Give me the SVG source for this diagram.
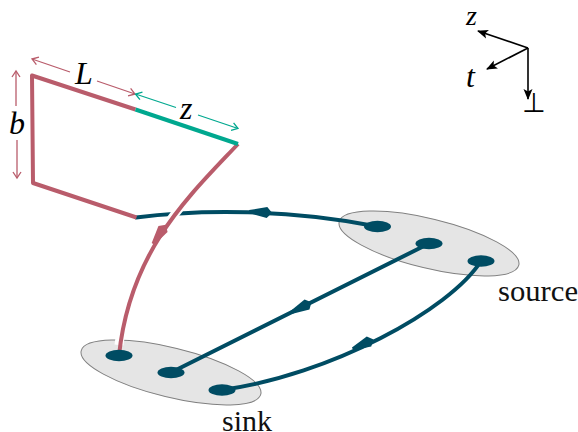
<svg xmlns="http://www.w3.org/2000/svg" width="578" height="432" viewBox="0 0 578 432">
<style>
.pink{fill:none;stroke:#b95c6b;stroke-width:4;stroke-linejoin:round}
.teal{fill:none;stroke:#00a88f;stroke-width:4}
.blue{fill:none;stroke:#004c63;stroke-width:4;stroke-linecap:round}
.halo{fill:none;stroke:#fff;stroke-width:9}
.dot{fill:#004c63}
.blob{fill:#e5e5e5;stroke:#808080;stroke-width:1}
.dimp{fill:none;stroke:#b95c6b;stroke-width:1.3}
.dimt{fill:none;stroke:#00a88f;stroke-width:1.3}
.ax{fill:none;stroke:#000;stroke-width:1.6}
.m{font-style:italic;font-size:32px;fill:#000}
.r{font-size:30px;fill:#111}
</style>
<defs>
<path id="kite" d="M-18,-1.500 L0,-5.500 L5,0 L0,5.500 L-18,1.500 Z"/>
<marker id="ap" markerWidth="10" markerHeight="10" refX="8" refY="5" orient="auto-start-reverse" markerUnits="userSpaceOnUse"><path d="M2,1 L8,5 L2,9" fill="none" stroke="#b95c6b" stroke-width="1.3"/></marker>
<marker id="at" markerWidth="10" markerHeight="10" refX="8" refY="5" orient="auto-start-reverse" markerUnits="userSpaceOnUse"><path d="M2,1 L8,5 L2,9" fill="none" stroke="#00a88f" stroke-width="1.3"/></marker>
<marker id="ak" markerWidth="12" markerHeight="10" refX="10" refY="5" orient="auto" markerUnits="userSpaceOnUse"><path d="M0,0.500 L11,5 L0,9.500 L2.500,5 Z" fill="#000"/></marker>
</defs>
<g id="source"><ellipse class="blob" cx="429" cy="243.500" rx="92.400" ry="24.800" transform="rotate(13.600 429 243.500)"/></g>
<g id="sink"><ellipse class="blob" cx="171" cy="372.500" rx="92.400" ry="24.800" transform="rotate(13.600 171 372.500)"/></g>
<g id="connectors">
<path class="blue" d="M136,217.500 C200,209 290,209 377.500,226.500"/>
<use href="#kite" class="dot" transform="translate(267,212.500) rotate(3)"/>
<path class="blue" d="M429,243.500 L171,372.500"/>
<use href="#kite" class="dot" transform="translate(307,304.500) rotate(-26.600)"/>
<path class="blue" d="M481,261 C450,310 330,375 222,390"/>
<use href="#kite" class="dot" transform="translate(369,341.500) rotate(-24)"/>
<path class="halo" d="M238,144 C190,195 130,250 119,345"/>
<path class="pink" d="M238,144 C190,195 130,250 119,355.500"/>
<use href="#kite" fill="#b95c6b" transform="translate(163,229) rotate(-56)"/>
<path class="pink" d="M135.500,109.500 L32,75.500 L33,183 L136.500,217.500"/>
<path class="teal" d="M135.500,109.500 L238,144"/>
<path class="dimp" marker-start="url(#ap)" d="M32,59 L70,72"/>
<path class="dimp" marker-end="url(#ap)" d="M97,81 L135,94"/>
<path class="dimt" marker-start="url(#at)" d="M135.500,94 L176,107.500"/>
<path class="dimt" marker-end="url(#at)" d="M198,115 L238,128.500"/>
<path class="dimp" marker-start="url(#ap)" d="M16,71 L16,106"/>
<path class="dimp" marker-end="url(#ap)" d="M17,140 L17,178"/>
<path class="ax" marker-end="url(#ak)" d="M528,48 L478,31"/>
<path class="ax" marker-end="url(#ak)" d="M528,48 L487,69"/>
<path class="ax" marker-end="url(#ak)" d="M528,48 L528,99"/>
</g>
<g id="dots">
<ellipse class="dot" cx="377.500" cy="226.500" rx="13.500" ry="5.800"/>
<ellipse class="dot" cx="429" cy="243.500" rx="13.500" ry="5.800"/>
<ellipse class="dot" cx="481" cy="261" rx="13.500" ry="5.800"/>
<ellipse class="dot" cx="119" cy="355.500" rx="13.500" ry="5.800"/>
<ellipse class="dot" cx="171" cy="372.500" rx="13.500" ry="5.800"/>
<ellipse class="dot" cx="222" cy="390" rx="13.500" ry="5.800"/>
</g>
<g id="labels" font-family="Liberation Serif, serif">
<text class="m" x="75" y="84">L</text>
<text class="m" x="180" y="119">z</text>
<text class="m" x="9" y="134">b</text>
<text class="m" x="466" y="25" style="font-size:28px">z</text>
<text class="m" x="466" y="87">t</text>
<text x="534" y="112" text-anchor="middle" font-family="DejaVu Sans, sans-serif" font-size="27" fill="#000">⊥</text>
<text class="r" x="498" y="301" textLength="80" lengthAdjust="spacingAndGlyphs">source</text>
<text class="r" x="222" y="431">sink</text>
</g>
</svg>
